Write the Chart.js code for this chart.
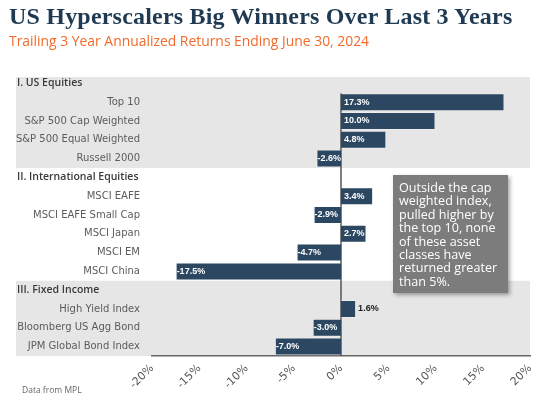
<!DOCTYPE html>
<html>
<head>
<meta charset="utf-8">
<script src="https://cdn.jsdelivr.net/npm/chart.js@4.4.1/dist/chart.umd.min.js"></script>
<style>
  body{margin:0;background:#fff;}
  #wrap{position:relative;width:560px;height:412px;overflow:hidden;}
  #wrap canvas{position:absolute;left:0;top:0;}
  .title{position:absolute;left:9px;top:3px;font-family:"Liberation Serif",serif;font-weight:bold;font-size:24px;color:#1f3a52;white-space:nowrap;letter-spacing:0.2px;}
  .sub{position:absolute;left:9px;top:31px;font-family:"Open Sans",sans-serif;font-size:13.9px;color:#f26b2b;white-space:nowrap;}
  .note{position:absolute;left:22px;top:384px;font-family:"Open Sans",sans-serif;font-size:8.5px;color:#666;}
  .box{position:absolute;left:393px;top:175px;width:115px;height:118px;background:#7c7c7c;box-shadow:2px 2px 4px rgba(0,0,0,0.35);box-sizing:border-box;padding:6px 0 0 6px;font-family:"Open Sans",sans-serif;font-size:12.6px;line-height:13.4px;color:#fff;white-space:nowrap;}
</style>
</head>
<body>
<div id="wrap">
  <canvas id="dia" width="560" height="412"></canvas>
  <div class="title">US Hyperscalers Big Winners Over Last 3 Years</div>
  <div class="sub">Trailing 3 Year Annualized Returns Ending June 30, 2024</div>
  <div class="box">Outside the cap<br>weighted index,<br>pulled higher by<br>the top 10, none<br>of these asset<br>classes have<br>returned greater<br>than 5%.</div>
  <div class="note">Data from MPL</div>
</div>
<script>
// categories (headers have no bar)
let labels = ["I. US Equities","Top 10","S&P 500 Cap Weighted","S&P 500 Equal Weighted","Russell 2000",
  "II. International Equities","MSCI EAFE","MSCI EAFE Small Cap","MSCI Japan","MSCI EM","MSCI China",
  "III. Fixed Income","High Yield Index","Bloomberg US Agg Bond","JPM Global Bond Index"];
let returns = [null,17.3,10.0,4.8,-2.6, null,3.4,-2.9,2.7,-4.7,-17.5, null,1.6,-3.0,-7.0];
let headers = ["I. US Equities","II. International Equities","III. Fixed Income"];
let xTicks = [-20,-15,-10,-5,0,5,10,15,20];

const dia = document.getElementById("dia");

// bandes grises + titres de groupes + ligne zero
const groupPlugin = {
  id:"groups",
  beforeDraw(chart){
    let ctx = chart.ctx, y = chart.scales.y, a = chart.chartArea;
    let h = (a.bottom - a.top) / labels.length;
    ctx.save();
    ctx.fillStyle = "#e6e6e6";
    let bands = [[0,4],[11,14]];
    bands.forEach(b => {
      let top = y.getPixelForValue(b[0]) - h/2 + (b[0]==0 ? 3 : 0);
      let bot = y.getPixelForValue(b[1]) + h/2;
      ctx.fillRect(16, top, a.right - 16, bot - top);
    });
    ctx.restore();
  },
  beforeDatasetsDraw(chart){
    let ctx = chart.ctx, x = chart.scales.x, y = chart.scales.y, a = chart.chartArea;
    let h = (a.bottom - a.top) / labels.length;
    ctx.save();
    ctx.strokeStyle = "#555";
    ctx.lineWidth = 1.5;
    ctx.beginPath();
    ctx.moveTo(x.getPixelForValue(0), y.getPixelForValue(1) - h*0.47);
    ctx.lineTo(x.getPixelForValue(0), a.bottom);
    ctx.stroke();
    ctx.restore();
  },
  afterDraw(chart){
    let ctx = chart.ctx, y = chart.scales.y;
    ctx.save();
    ctx.font = "600 10.5px 'Open Sans'";
    ctx.fillStyle = "#3a3a3a";
    ctx.textAlign = "left";
    ctx.textBaseline = "middle";
    labels.forEach((l,i) => {
      if(headers.includes(l)) ctx.fillText(l, 17, y.getPixelForValue(i));
    });
    ctx.restore();
  }
};

// etiquettes des valeurs
const valuePlugin = {
  id:"values",
  afterDatasetsDraw(chart){
    let ctx = chart.ctx;
    let meta = chart.getDatasetMeta(0);
    ctx.save();
    ctx.font = "bold 9px 'Liberation Sans'";
    ctx.textBaseline = "middle";
    ctx.textAlign = "left";
    meta.data.forEach((bar,i) => {
      let v = returns[i];
      if(v === null) return;
      let t = v.toFixed(1) + "%";
      let left = Math.min(bar.x, bar.base), right = Math.max(bar.x, bar.base);
      if(right - left < 18){
        ctx.fillStyle = "#222";
        ctx.fillText(t, right + 2, bar.y);
      }else{
        ctx.fillStyle = "#fff";
        ctx.fillText(t, v > 0 ? left + 3 : left + 1, bar.y);
      }
    });
    ctx.restore();
  }
};

new Chart(dia, {
  type:"bar",
  data:{
    labels:labels,
    datasets:[{
      data:returns,
      backgroundColor:"#2b4761",
      borderColor:"rgba(255,255,255,0.3)",
      borderWidth:1,
      barPercentage:0.96,
      categoryPercentage:1
    }]
  },
  options:{
    indexAxis:"y",
    responsive:false,
    animation:false,
    layout:{padding:{top:74,right:30,left:0,bottom:0}},
    plugins:{legend:{display:false},tooltip:{enabled:false}},
    scales:{
      x:{
        min:-20,max:20,
        afterBuildTicks(s){ s.ticks = xTicks.map(v => ({value:v})); },
        afterFit(s){ s.height = 56; },
        grid:{display:false,drawTicks:false},
        border:{display:true,color:"#666",width:1.5},
        ticks:{
          callback:v => v + "%",
          minRotation:45,maxRotation:45,
          padding:6,
          color:"#555",
          font:{family:"DejaVu Sans",size:11}
        }
      },
      y:{
        afterFit(s){ s.width = 152; },
        grid:{display:false,drawTicks:false},
        border:{display:false},
        ticks:{
          autoSkip:false,
          padding:12,
          color:"#5c5c5c",
          font:{family:"DejaVu Sans",size:10},
          callback:function(v,i){ return headers.includes(labels[i]) ? "" : labels[i]; }
        }
      }
    }
  },
  plugins:[groupPlugin,valuePlugin]
});
</script>
</body>
</html>
